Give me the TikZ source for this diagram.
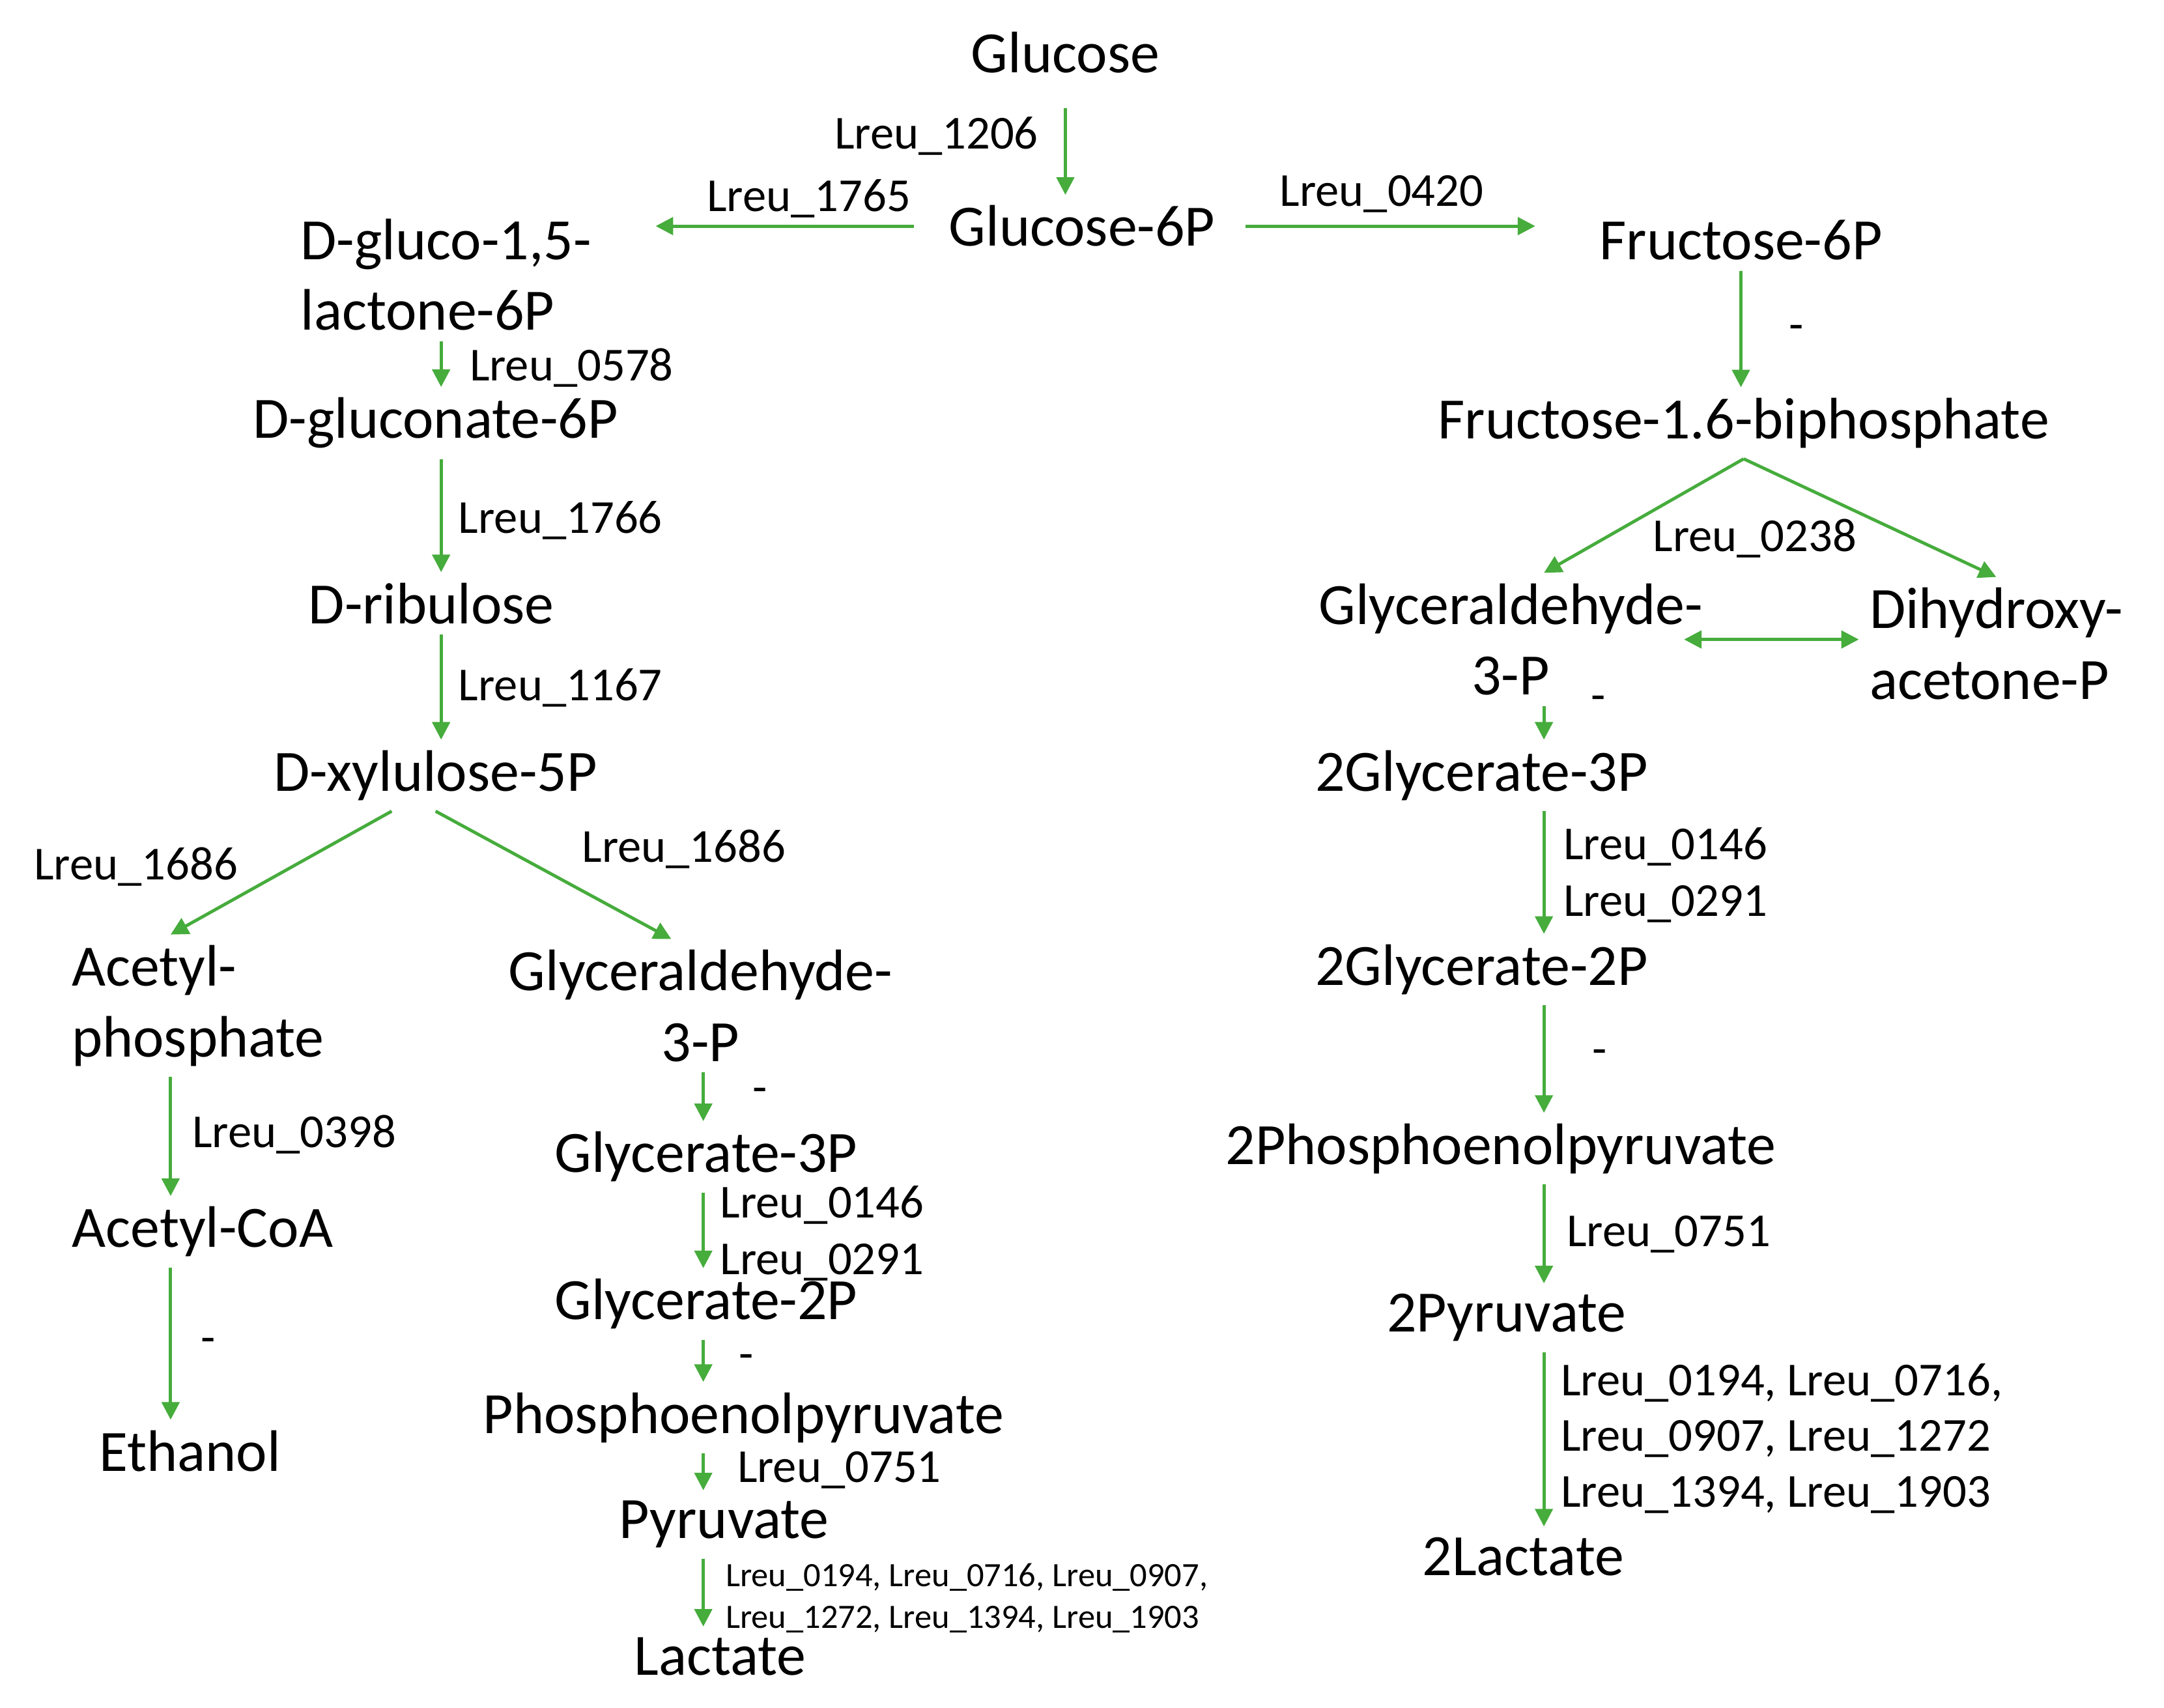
\documentclass[tikz,border=0pt]{standalone}
\usepackage{fontspec}
\setmainfont{Carlito}
\usetikzlibrary{arrows.meta}
\definecolor{pathgreen}{RGB}{70,172,60}

\begin{document}
\begin{tikzpicture}[x=0.01cm, y=-0.01cm,
    met/.style={inner sep=2pt, font=\fontsize{12}{14.5}\selectfont},
    enz/.style={inner sep=1pt, font=\fontsize{9.7}{11.6}\selectfont},
    flow/.style={draw=pathgreen, line width=0.65pt, -{Triangle[length=3.6pt,width=3.6pt]}}]
    \useasboundingbox (0,0) rectangle (1560,1231);
    % columns of the vertical arrows
    \coordinate (colA) at (123,0);
    \coordinate (colL) at (318,0);
    \coordinate (colM) at (507,0);
    \coordinate (colR) at (1113,0);
    \coordinate (colF) at (1255,0);
    % metabolites, top
    \node[met] (glc) at (768,38) {Glucose};
    \node[met] (g6p) at (780,163) {Glucose-6P};
    \node[met, align=left, anchor=west] (lac6p) at (209,198) {D-gluco-1,5-\\lactone-6P};
    \node[met] (f6p) at (1255,173) {Fructose-6P};
    \node[met] (f16bp) at (1257,305) {Fructose-1.6-biphosphate};
    % glycolysis (right)
    \node[met, align=center] (ga3pR) at (1089,461) {Glyceraldehyde-\\3-P};
    \node[met, align=left, anchor=west] (dhap) at (1340,464) {Dihydroxy-\\acetone-P};
    \node[met] (g3pR) at (1068,559) {2Glycerate-3P};
    \node[met] (g2pR) at (1068,699) {2Glycerate-2P};
    \node[met] (pepR) at (1082,828) {2Phosphoenolpyruvate};
    \node[met] (pyrR) at (1086,950) {2Pyruvate};
    \node[met] (lacR) at (1098,1122) {2Lactate};
    % phosphoketolase branch (left)
    \node[met] (gn6p) at (314,305) {D-gluconate-6P};
    \node[met] (rbl) at (311,435) {D-ribulose};
    \node[met] (xu5p) at (314,559) {D-xylulose-5P};
    \node[met, align=left, anchor=west] (acp) at (44,725) {Acetyl-\\phosphate};
    \node[met] (acoa) at (146,888) {Acetyl-CoA};
    \node[met] (etoh) at (137,1046) {Ethanol};
    \node[met, align=center] (ga3pL) at (505,725) {Glyceraldehyde-\\3-P};
    \node[met] (g3pL) at (509,834) {Glycerate-3P};
    \node[met] (g2pL) at (509,940) {Glycerate-2P};
    \node[met] (pepL) at (536,1022) {Phosphoenolpyruvate};
    \node[met] (pyrL) at (522,1099) {Pyruvate};
    \node[met] (lacL) at (519,1194) {Lactate};
    % enzyme labels
    \node[enz] (e1206) at (675,98) {Lreu\_1206};
    \node[enz] (e1765) at (583,143) {Lreu\_1765};
    \node[enz] (e0420) at (996,140) {Lreu\_0420};
    \node[enz] (pfk) at (1295,240) {-};
    \node[enz] (e0238) at (1265,388) {Lreu\_0238};
    \node[enz] (gapR) at (1152,507) {-};
    \node[enz, align=left, anchor=west] (pgmR) at (1123,631) {Lreu\_0146\\Lreu\_0291};
    \node[enz] (enoR) at (1153,762) {-};
    \node[enz] (e0751R) at (1203,890) {Lreu\_0751};
    \node[enz, align=left, anchor=west, font=\fontsize{9.7}{11.4}\selectfont] (ldhR) at (1121,1037)
        {Lreu\_0194, Lreu\_0716,\\Lreu\_0907, Lreu\_1272\\Lreu\_1394, Lreu\_1903};
    \node[enz] (e0578) at (412,265) {Lreu\_0578};
    \node[enz] (e1766) at (404,375) {Lreu\_1766};
    \node[enz] (e1167) at (404,496) {Lreu\_1167};
    \node[enz] (e1686a) at (98,625) {Lreu\_1686};
    \node[enz] (e1686b) at (493,612) {Lreu\_1686};
    \node[enz] (e0398) at (212,818) {Lreu\_0398};
    \node[enz] (adh) at (150,970) {-};
    \node[enz] (gapL) at (548,790) {-};
    \node[enz, align=left, anchor=west] (pgmL) at (515,889) {Lreu\_0146\\Lreu\_0291};
    \node[enz] (enoL) at (538,982) {-};
    \node[enz] (e0751L) at (605,1060) {Lreu\_0751};
    \node[enz, align=left, anchor=west, font=\fontsize{7}{8.5}\selectfont] (ldhL) at (519,1152)
        {Lreu\_0194, Lreu\_0716, Lreu\_0907,\\Lreu\_1272, Lreu\_1394, Lreu\_1903};
    % top arrows
    \draw[flow, shorten <=5pt] (glc.south) -- (glc.south |- g6p.north);
    \draw[flow, shorten <=5pt, shorten >=11pt] (g6p.west) -- (g6p.west -| lac6p.east);
    \draw[flow, shorten <=4pt, shorten >=11pt] (g6p.east) -- (g6p.east -| f6p.west);
    \draw[flow] (f6p.south -| colF) -- (f16bp.north -| colF);
    % glycolysis arrows
    \draw[flow] (f16bp.south) -- (ga3pR.north -| colR);
    \draw[flow] (f16bp.south) -- (dhap.north);
    \draw[flow, {Triangle[length=3.6pt,width=3.6pt]}-{Triangle[length=3.6pt,width=3.6pt]}, shorten <=-6pt]
        (ga3pR.east) -- (ga3pR.east -| dhap.west);
    \draw[flow] (ga3pR.south -| colR) -- (g3pR.north -| colR);
    \draw[flow] (g3pR.south -| colR) -- (g2pR.north -| colR);
    \draw[flow] (g2pR.south -| colR) -- (pepR.north -| colR);
    \draw[flow] (pepR.south -| colR) -- (pyrR.north -| colR);
    \draw[flow] (pyrR.south -| colR) -- (lacR.north -| colR);
    % left branch arrows
    \draw[flow] (lac6p.south -| colL) -- (gn6p.north -| colL);
    \draw[flow] (gn6p.south -| colL) -- (rbl.north -| colL);
    \draw[flow] (rbl.south -| colL) -- (xu5p.north -| colL);
    \draw[flow] ([xshift=-9pt]xu5p.south) -- (acp.north -| colA);
    \draw[flow] (xu5p.south) -- ([xshift=-6pt]ga3pL.north);
    \draw[flow] (acp.south -| colA) -- (acoa.north -| colA);
    \draw[flow] (acoa.south -| colA) -- (etoh.north -| colA);
    \draw[flow] (ga3pL.south -| colM) -- (g3pL.north -| colM);
    \draw[flow] (g3pL.south -| colM) -- (g2pL.north -| colM);
    \draw[flow] (g2pL.south -| colM) -- (pepL.north -| colM);
    \draw[flow] (pepL.south -| colM) -- (pyrL.north -| colM);
    \draw[flow] (pyrL.south -| colM) -- (lacL.north -| colM);
\end{tikzpicture}
\end{document}
